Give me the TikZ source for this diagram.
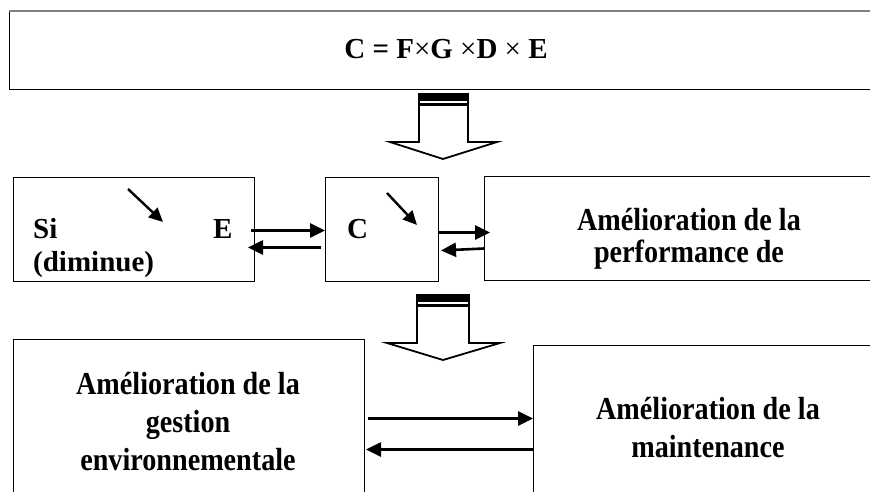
\documentclass[tikz,border=0pt]{standalone}
\usepackage{fontspec}
\setmainfont{Liberation Serif}
\newfontfamily\tallserif{Liberation Serif}[FakeStretch=0.88]
\usetikzlibrary{arrows.meta,positioning,calc}

\tikzset{
  box/.style={draw,line width=1pt,inner sep=0pt,anchor=north west},
  txt/.style={font=\fontsize{29}{34}\selectfont\bfseries,inner sep=0pt},
  talltxt/.style={font=\fontsize{32}{#1}\tallserif\bfseries,inner sep=0pt,align=center},
  link/.style={-{Triangle[length=15pt,width=14pt]},line width=2.6pt},
  tilt/.style={-{Triangle[length=14pt,width=13pt]},line width=2.4pt},
  hollow/.style={draw,line width=1.8pt,fill=white,line join=miter},
}

\begin{document}
\begin{tikzpicture}[x=1pt,y=-1pt]
  \clip (0,0) rectangle (870,492);
  % boxes
  \node[box,minimum width=876pt,minimum height=78pt] (formula) at (9,11) {};
  \node[box,minimum width=241pt,minimum height=104pt] (si) at (13,177) {};
  \node[box,minimum width=113pt,minimum height=104pt] (cbox) at (325,177) {};
  \node[box,minimum width=410pt,minimum height=104pt] (perf) at (484,176) {};
  \node[box,minimum width=351pt,minimum height=170pt] (gestion) at (13,339) {};
  \node[box,minimum width=350pt,minimum height=170pt] (maint) at (533,345) {};
  \draw[gray,line width=2pt] (formula.north west) -- (formula.north east);

  % texts
  \node[txt,anchor=base] (ftxt) at (446,59) {C = F{\mdseries ×}G {\mdseries ×}D {\mdseries ×} E};
  \node[txt,anchor=base west] (sitxt) at (33,238) {Si};
  \node[txt,anchor=base west] (etxt) at (213,238) {E};
  \node[txt,anchor=base west] (dimtxt) at (33,271) {(diminue)};
  \node[txt,anchor=base west] (ctxt) at (347,238) {C};
  \node[talltxt=32] (perftxt) at (689,239) {Amélioration de la\\performance de};
  \node[talltxt=38] (gesttxt) at (188,422) {Amélioration de la\\gestion\\environnementale};
  \node[talltxt=38] (mainttxt) at (708,428) {Amélioration de la\\maintenance};

  % small slanted arrows
  \coordinate (d1a) at (128,189);
  \coordinate (d1b) at (163,222);
  \coordinate (d2a) at (387,193);
  \coordinate (d2b) at (417,225);
  \draw[tilt] (d1a) -- (d1b);
  \draw[tilt] (d2a) -- (d2b);

  % big hollow arrows
  \draw[hollow] (419,94) -- (419,142) -- (390,142) -- (443,159) -- (497,142) -- (468,142) -- (468,94) -- cycle;
  \fill (419,94) rectangle (468,101);
  \fill (419,103) rectangle (468,106);
  \draw[hollow] (417,295) -- (417,343) -- (387,343) -- (443,360) -- (500,343) -- (469,343) -- (469,295) -- cycle;
  \fill (417,295) rectangle (469,302);
  \fill (417,304) rectangle (469,307);

  % connectors
  \draw[link] ($(si.east)+(-4,1)$) -- ($(cbox.west)+(0,1)$);
  \draw[link] ($(cbox.west)+(-4,18)$) -- ($(si.east)+(-7,18)$);
  \draw[link] ($(cbox.east)+(0,3)$) -- ($(perf.west)+(6,4)$);
  \draw[link] ($(perf.west)+(0,20)$) -- ($(cbox.east)+(2,21)$);
  \draw[link] ($(gestion.east)+(3,-6)$) -- ($(maint.west)+(0,-12)$);
  \draw[link] ($(maint.west)+(0,19)$) -- ($(gestion.east)+(1,25)$);
\end{tikzpicture}
\end{document}
